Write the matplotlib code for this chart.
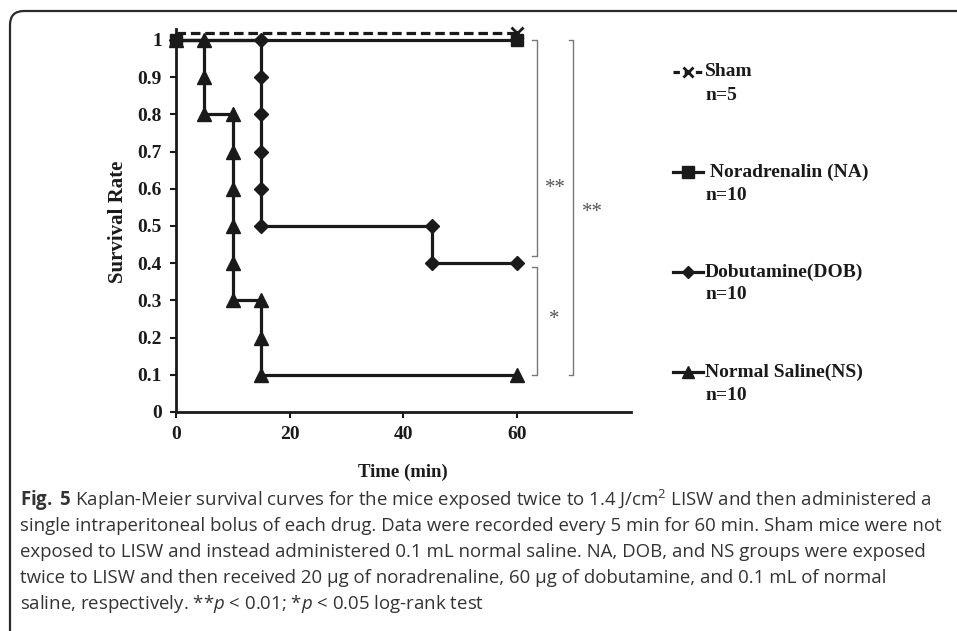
import matplotlib
matplotlib.use('Agg')
import matplotlib.pyplot as plt
from matplotlib.lines import Line2D
from matplotlib.patches import FancyBboxPatch
from matplotlib.transforms import IdentityTransform

# survival data (time in min, survival rate)
sham_t = [0, 60]
sham_s = [1.02, 1.02]
na_t = [0, 60]
na_s = [1.0, 1.0]
dob_t = [0, 15, 15, 15, 15, 15, 15, 45, 45, 60]
dob_s = [1.0, 1.0, 0.9, 0.8, 0.7, 0.6, 0.5, 0.5, 0.4, 0.4]
ns_t = [0, 5, 5, 5, 10, 10, 10, 10, 10, 10, 15, 15, 15, 60]
ns_s = [1.0, 1.0, 0.9, 0.8, 0.8, 0.7, 0.6, 0.5, 0.4, 0.3, 0.3, 0.2, 0.1, 0.1]

legend_labels = ['Sham', ' Noradrenalin (NA)', 'Dobutamine(DOB)', 'Normal Saline(NS)']
legend_n = ['n=5', 'n=10', 'n=10', 'n=10']

x_ticks = [0, 20, 40, 60]
y_ticks = [0, 0.1, 0.2, 0.3, 0.4, 0.5, 0.6, 0.7, 0.8, 0.9, 1]
y_ticklabels = ['0', '0.1', '0.2', '0.3', '0.4', '0.5', '0.6', '0.7', '0.8', '0.9', '1']

# significance brackets: (x, y_top, y_bottom, label, label_x, label_y)
brackets = [(63.5, 1.0, 0.42, '**', 66.7, 0.60),
            (69.9, 1.0, 0.10, '**', 73.2, 0.535),
            (63.5, 0.39, 0.10, '*', 66.5, 0.25)]

caption = [
    r'$\mathbf{Fig.}$ $\mathbf{5}$ Kaplan-Meier survival curves for the mice exposed twice to 1.4 J/cm$^2$ LISW and then administered a',
    'single intraperitoneal bolus of each drug. Data were recorded every 5 min for 60 min. Sham mice were not',
    'exposed to LISW and instead administered 0.1 mL normal saline. NA, DOB, and NS groups were exposed',
    'twice to LISW and then received 20 \u00b5g of noradrenaline, 60 \u00b5g of dobutamine, and 0.1 mL of normal',
    r'saline, respectively. **$p$ < 0.01; *$p$ < 0.05 log-rank test',
]

plt.rcParams['mathtext.fontset'] = 'custom'
plt.rcParams['mathtext.rm'] = 'Open Sans'
plt.rcParams['mathtext.it'] = 'Open Sans:italic'
plt.rcParams['mathtext.bf'] = 'Open Sans:bold'

W, H = 957, 631
fig = plt.figure(figsize=(W / 100, H / 100), dpi=100)

# outer frame with rounded corner
frame = FancyBboxPatch((10, -60), 1100, H - 11 + 60, boxstyle='round,pad=0,rounding_size=14',
                       transform=IdentityTransform(), facecolor='none', edgecolor='#2a2a2a',
                       linewidth=1.6)
fig.add_artist(frame)

x0, x60, y0, y1 = 176, 517, 412, 40
ppx = (x60 - x0) / 60.0
ppy = (y0 - y1) / 1.0
xmax, ymax = 80, 1.03
ax = fig.add_axes([x0 / W, (H - y0) / H, xmax * ppx / W, ymax * ppy / H])

serif = 'Liberation Serif'
lw = 2.3
ax.plot(na_t, na_s, color='#1a1a1a', lw=lw, marker='s', ms=9, clip_on=False, zorder=3)
ax.plot(dob_t, dob_s, color='#1a1a1a', lw=lw, marker='D', ms=7, clip_on=False, zorder=3)
ax.plot(ns_t, ns_s, color='#1a1a1a', lw=lw, marker='^', ms=10, clip_on=False, zorder=3)
ax.plot(sham_t, sham_s, color='#1a1a1a', lw=lw, ls=(0, (3, 1.5)), marker='x', ms=8, mew=2,
        markevery=[1], clip_on=False, zorder=4)

ax.set_xlim(0, xmax)
ax.set_ylim(0, ymax)
ax.set_xticks(x_ticks)
ax.set_yticks(y_ticks)
ax.set_yticklabels(y_ticklabels)
for s in ['top', 'right']:
    ax.spines[s].set_visible(False)
for s in ['left', 'bottom']:
    ax.spines[s].set_linewidth(2.0)
    ax.spines[s].set_color('#1a1a1a')
ax.tick_params(direction='out', length=4, width=1.5, color='#1a1a1a', pad=6)
for lab in ax.get_xticklabels() + ax.get_yticklabels():
    lab.set_fontfamily(serif)
    lab.set_fontweight('bold')
    lab.set_fontsize(14)
    lab.set_color('#1a1a1a')

# significance brackets
for bx, yt, yb, txt, tx, ty in brackets:
    ax.plot([bx - 0.8, bx, bx, bx - 0.8], [yt, yt, yb, yb], color='#777777', lw=1.0, clip_on=False)
    ax.text(tx, ty, txt, fontfamily=serif, fontsize=15, color='#555555', ha='center', va='center',
            clip_on=False)

fig.text(118 / W, 1 - 222 / H, 'Survival Rate', rotation=90, ha='center', va='center',
         fontfamily=serif, fontweight='bold', fontsize=15, color='#1a1a1a')
fig.text(403 / W, 1 - 472 / H, 'Time (min)', ha='center', va='center',
         fontfamily=serif, fontweight='bold', fontsize=13.5, color='#1a1a1a')

# legend built by hand so the handle sits on the first text line
styles = [dict(ls=(0, (2, 1.5)), marker='x', ms=7, mew=2),
          dict(ls='-', marker='s', ms=8),
          dict(ls='-', marker='D', ms=6),
          dict(ls='-', marker='^', ms=9)]
for i, (lab, n, st) in enumerate(zip(legend_labels, legend_n, styles)):
    yy = 1 - (72 + 100 * i) / H
    ln = Line2D([673 / W, 688 / W, 703 / W], [yy, yy, yy], transform=fig.transFigure,
                color='#1a1a1a', lw=lw, markevery=[1], **st)
    fig.add_artist(ln)
    fig.text(705 / W, yy, lab, ha='left', va='center', fontfamily=serif, fontweight='bold',
             fontsize=14, color='#1a1a1a')
    fig.text(705 / W, yy - 23 / H, n, ha='left', va='center', fontfamily=serif, fontweight='bold',
             fontsize=14, color='#1a1a1a')

for i, line in enumerate(caption):
    fig.text(20 / W, 1 - (500 + 26 * i) / H, line, ha='left', va='center',
             fontfamily='Open Sans', fontsize=13.4, color='#333333')

fig.savefig('out.png', dpi=100)
plt.close('all')
